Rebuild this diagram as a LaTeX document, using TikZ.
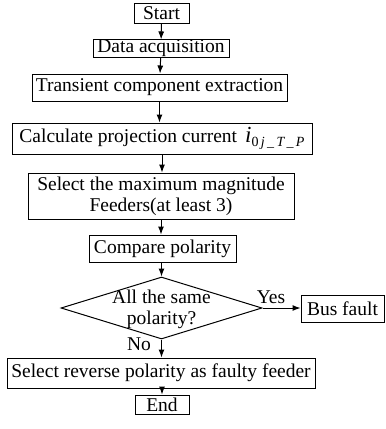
\documentclass[tikz,border=0pt]{standalone}
\usepackage{fontspec}
\setmainfont{Liberation Serif}
\usetikzlibrary{arrows.meta,shapes.geometric}
\begin{document}
\begin{tikzpicture}[x=1pt,y=-1pt,
  every node/.style={font=\fontsize{19.5}{21}\selectfont},
  box/.style={draw,line width=1pt,inner sep=0pt,align=center},
  dia/.style={draw,line width=1pt,diamond,inner sep=0pt,minimum width=201pt,minimum height=62pt},
  arr/.style={line width=1pt,-{Latex[length=8pt,width=6pt]}},
  lbl/.style={inner sep=0pt}]
\useasboundingbox (0,0) rectangle (386,429);
\node[box,minimum width=55pt,minimum height=20pt] (start) at (161.5,13) {Start};
\node[box,minimum width=136pt,minimum height=17pt] (data) at (161,48.5) {Data acquisition};
\node[box,minimum width=255pt,minimum height=27pt] (trans) at (159.5,87.5) {Transient component extraction};
\node[box,minimum width=300pt,minimum height=31pt] (calc) at (162,138.5) {Calculate projection current \,{\fontsize{23}{23}\selectfont\itshape i}\raisebox{-0.5ex}{\fontsize{14}{14}\selectfont 0\,\itshape j\,\_\,T\,\_\,P}};
\node[box,minimum width=266pt,minimum height=46pt] (sel) at (161,196) {Select the maximum magnitude\\Feeders(at least 3)};
\node[box,minimum width=147pt,minimum height=27pt] (comp) at (162.5,248.5) {Compare polarity};
\node[dia] (dec) at (161.5,308) {};
\node[lbl,align=center] (dect) at (161.5,309) {All the same\\polarity?};
\node[box,minimum width=83pt,minimum height=27pt] (bus) at (342.5,308.5) {Bus fault};
\node[box,minimum width=308pt,minimum height=30pt] (rev) at (161,373) {Select reverse polarity as faulty feeder};
\node[box,minimum width=54pt,minimum height=19pt] (end) at (162,404.5) {End};
\draw[arr] (start) -- (data);
\draw[arr] (data) -- (trans);
\draw[arr] (trans) -- (trans|-calc.north);
\draw[arr] (calc) -- (calc|-sel.north);
\draw[arr] (sel) -- (sel|-comp.north);
\draw[arr] (comp.south-|dec) -- (dec.north);
\draw[arr] (dec.east) -- (bus.west|-dec.east);
\draw[arr] (dec.south) -- (rev.north-|dec.south);
\draw[arr] (rev.south-|end) -- (end);
\node[lbl] (yes) at (271,297) {Yes};
\node[lbl] (no) at (139,344) {No};
\end{tikzpicture}
\end{document}
